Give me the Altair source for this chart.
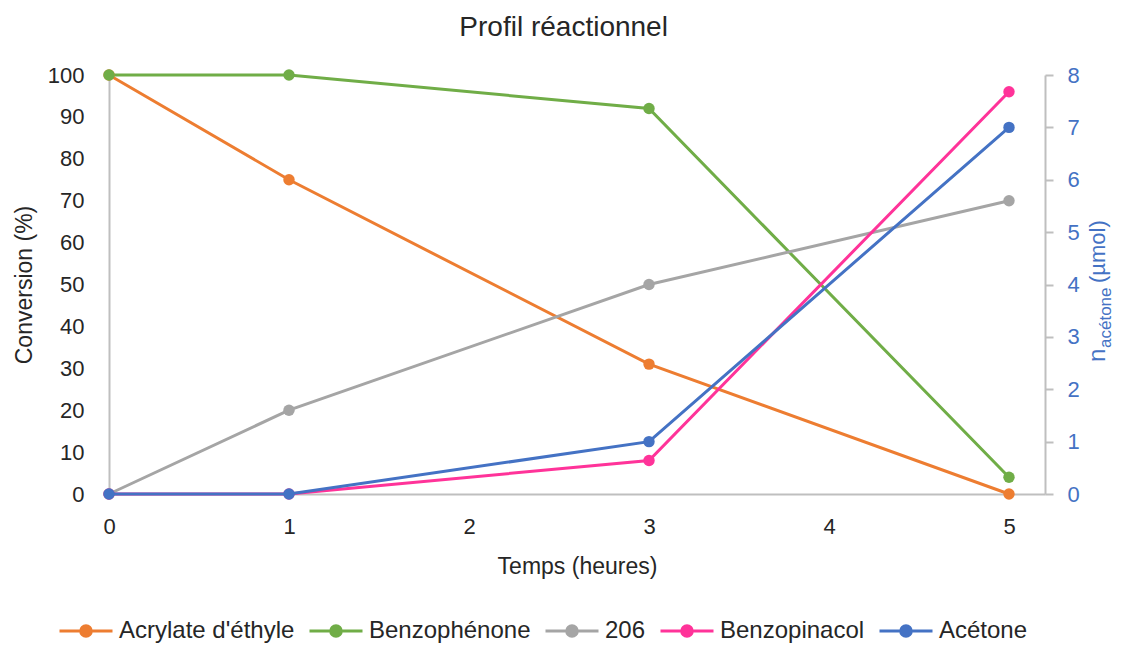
import altair as alt
import pandas as pd

# ---- data ----
temps = [0, 1, 3, 5]
acrylate = [100, 75, 31, 0]
benzophenone = [100, 100, 92, 4]
s206 = [0, 20, 50, 70]
benzopinacol = [0, 0, 8, 96]
acetone = [0, 0, 1, 7]

series_names = ["Acrylate d'éthyle", "Benzophénone", "206", "Benzopinacol", "Acétone"]
series_colors = ["#ED7D31", "#70AD47", "#A5A5A5", "#FF3399", "#4472C4"]

left_series = {
    "Acrylate d'éthyle": acrylate,
    "Benzophénone": benzophenone,
    "206": s206,
    "Benzopinacol": benzopinacol,
}

rows = []
for i, (name, vals) in enumerate(left_series.items()):
    for t, v in zip(temps, vals):
        rows.append({"serie": name, "ordre": i, "temps": t, "val": v})
left_df = pd.DataFrame(rows)
right_df = pd.DataFrame({"serie": "Acétone", "ordre": 4, "temps": temps, "val": acetone})

FONT = "Liberation Sans"
TXT = "#262626"
AXC = "#BFBFBF"
BLUE = "#4472C4"

legend_path = ("M-1,0L1,0"
               "M-0.2,0A0.2,0.2,0,1,1,0.2,0A0.2,0.2,0,1,1,-0.2,0"
               "M-0.12,0A0.12,0.12,0,1,1,0.12,0A0.12,0.12,0,1,1,-0.12,0"
               "M-0.05,0A0.05,0.05,0,1,1,0.05,0A0.05,0.05,0,1,1,-0.05,0")

color = alt.Color(
    "serie:N",
    scale=alt.Scale(domain=series_names, range=series_colors),
    legend=alt.Legend(
        title=None, orient="none", direction="horizontal", columns=5,
        legendX=-51, legendY=528,
        symbolType=legend_path, symbolSize=2809, symbolStrokeWidth=3,
        labelFontSize=24, labelFont=FONT, labelColor=TXT, labelLimit=0,
        labelOffset=5, columnPadding=8,
    ),
)

x_enc = alt.X(
    "temps:Q",
    scale=alt.Scale(domain=[0, 5.2], nice=False, zero=False),
    axis=alt.Axis(
        title="Temps (heures)", values=[0, 1, 2, 3, 4, 5], format="d",
        grid=False, ticks=False, domainColor=AXC, domainWidth=2,
        labelFontSize=22, labelFont=FONT, labelColor=TXT, labelPadding=22,
        labelFlush=False,
        titleFontSize=23, titleFont=FONT, titleColor=TXT, titleFontWeight="normal",
        titlePadding=18,
    ),
)

y_left = alt.Y(
    "val:Q",
    scale=alt.Scale(domain=[0, 100], nice=False),
    axis=alt.Axis(
        title="Conversion (%)", values=list(range(0, 101, 10)),
        grid=False, ticks=False, domainColor=AXC, domainWidth=2,
        labelFontSize=22, labelFont=FONT, labelColor=TXT, labelPadding=25,
        labelFlush=False,
        titleFontSize=23, titleFont=FONT, titleColor=TXT, titleFontWeight="normal",
        titlePadding=11,
    ),
)

y_right = alt.Y(
    "val:Q",
    scale=alt.Scale(domain=[0, 8], nice=False),
    axis=alt.Axis(
        title=None, orient="right", values=list(range(0, 9)),
        grid=False, ticks=True, tickSize=8, tickColor=AXC, tickWidth=2,
        domainColor=AXC, domainWidth=2, labelFlush=False,
        labelFontSize=22, labelFont=FONT, labelColor=BLUE, labelPadding=14,
    ),
)

left_base = alt.Chart(left_df).encode(x=x_enc, y=y_left, color=color, order="ordre:Q")
left_layer = alt.layer(
    left_base.mark_line(strokeWidth=3),
    left_base.mark_point(filled=True, size=130, opacity=1),
)

right_base = alt.Chart(right_df).encode(x=x_enc, y=y_right, color=color)
right_layer = alt.layer(
    right_base.mark_line(strokeWidth=3),
    right_base.mark_point(filled=True, size=130, opacity=1),
)

# right axis title: n with subscript "acétone", then (µmol)
title_df = pd.DataFrame({"a": [0]})
t_n = alt.Chart(title_df).mark_text(
    text="n", angle=270, align="left", baseline="alphabetic",
    font=FONT, fontSize=24, color=BLUE,
).encode(x=alt.value(996), y=alt.value(287))
t_sub = alt.Chart(title_df).mark_text(
    text="acétone", angle=270, align="left", baseline="alphabetic",
    font=FONT, fontSize=17, color=BLUE,
).encode(x=alt.value(1002), y=alt.value(273))
t_unit = alt.Chart(title_df).mark_text(
    text="(µmol)", angle=270, align="left", baseline="alphabetic",
    font=FONT, fontSize=22, color=BLUE,
).encode(x=alt.value(996), y=alt.value(208))

chart = alt.layer(left_layer, right_layer, t_n, t_sub, t_unit).resolve_scale(
    y="independent"
).properties(
    width=936,
    height=419,
    title=alt.TitleParams(
        "Profil réactionnel", font=FONT, fontSize=28, fontWeight="normal",
        color=TXT, anchor="middle", frame="bounds", offset=22,
    ),
    padding={"left": 101, "top": 67, "right": 70, "bottom": 152},
    autosize=alt.AutoSizeParams(type="none"),
).configure_view(stroke=None)

chart.save("out.html", embed_options={"renderer": "svg", "actions": False})
